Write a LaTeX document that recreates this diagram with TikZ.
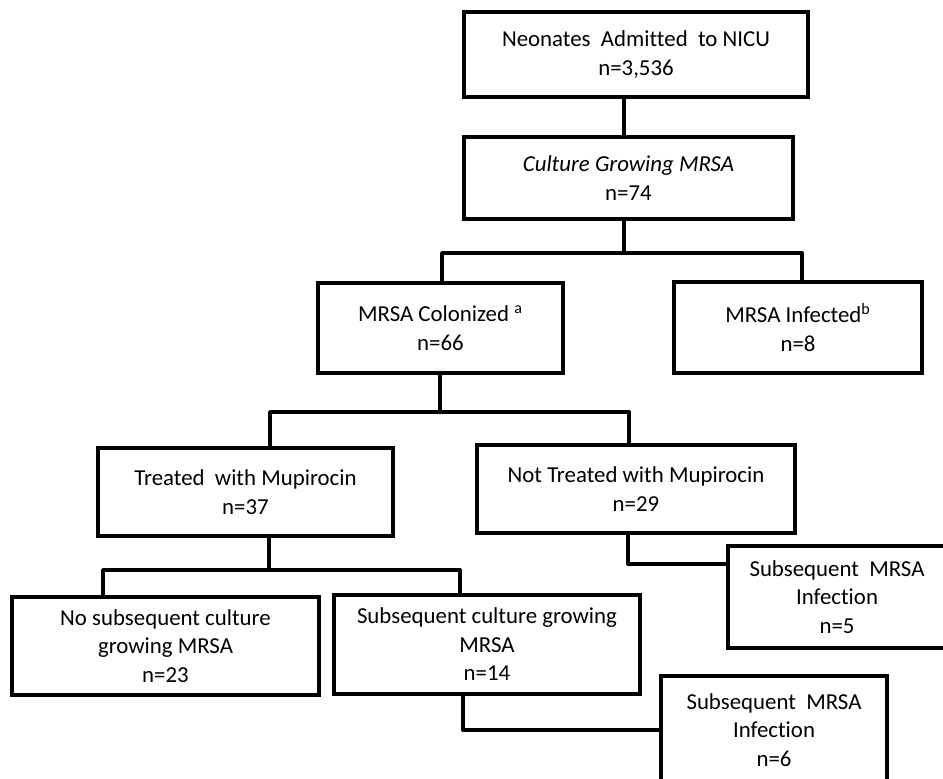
\documentclass[tikz,border=0pt]{standalone}
\usepackage{fontspec}
\setmainfont{Carlito}[Ligatures=NoCommon]
\usetikzlibrary{positioning,calc}

\tikzset{
  flowbox/.style={draw, line width=2.2pt, align=center, inner sep=2pt,
    font=\fontsize{13}{16.2}\selectfont},
  boxsize/.style 2 args={minimum width=#1*0.02cm, minimum height=#2*0.02cm},
  link/.style={line width=2.2pt, line join=round},
}

\begin{document}
\begin{tikzpicture}[x=0.02cm, y=-0.02cm]
\useasboundingbox (0,0) rectangle (943,778);

% boxes
\node[flowbox, boxsize={344}{85}] (admit) at (636,54.5) {Neonates~ Admitted~ to NICU\\n=3,536};
\node[flowbox, boxsize={329}{82}] (culture) at (628.5,178) {\textit{Culture Growing MRSA}\\n=74};
\node[flowbox, boxsize={245}{90}] (colon) at (440.5,328) {MRSA Colonized \textsuperscript{a}\\n=66};
\node[flowbox, boxsize={248}{91}] (infect) at (798,327.5) {MRSA Infected\textsuperscript{b}\\n=8};
\node[flowbox, boxsize={295}{88}] (treat) at (245.5,492) {Treated~ with Mupirocin\\n=37};
\node[flowbox, boxsize={318}{88}] (notreat) at (636,489) {Not Treated with Mupirocin\\n=29};
\node[flowbox, boxsize={307}{98}] (nogrow) at (165.5,646) {No subsequent culture\\growing MRSA\\n=23};
\node[flowbox, boxsize={306}{99}] (grow) at (487,644.5) {Subsequent culture growing\\MRSA\\n=14};
\node[flowbox, boxsize={218}{102}] (infA) at (837,597) {Subsequent~ MRSA\\Infection\\n=5};
\node[flowbox, boxsize={226}{108}] (infB) at (774,730) {Subsequent~ MRSA\\Infection\\n=6};

% junctions
\coordinate (k2) at (624,253);
\coordinate (k3) at (442,253);
\coordinate (k4) at (802,253);
\coordinate (k5) at (440,412);
\coordinate (k6) at (270,412);
\coordinate (k7) at (629,412);
\coordinate (k8) at (269,570);
\coordinate (k9) at (103,570);
\coordinate (k10) at (460,570);
\coordinate (k11) at (628,564);
\coordinate (k12) at (463,730);

% connectors
\draw[link] (k2 |- admit.south) -- (k2 |- culture.north);
\draw[link] (k2 |- culture.south) -- (k2);
\draw[link] (k3 |- colon.north) -- (k3) -- (k4) -- (k4 |- infect.north);
\draw[link] (k5 |- colon.south) -- (k5);
\draw[link] (k6 |- treat.north) -- (k6) -- (k7) -- (k7 |- notreat.north);
\draw[link] (k8 |- treat.south) -- (k8);
\draw[link] (k9 |- nogrow.north) -- (k9) -- (k10) -- (k10 |- grow.north);
\draw[link] (k11 |- notreat.south) -- (k11) -- (k11 -| infA.west);
\draw[link] (k12 |- grow.south) -- (k12) -- (k12 -| infB.west);

\end{tikzpicture}
\end{document}
